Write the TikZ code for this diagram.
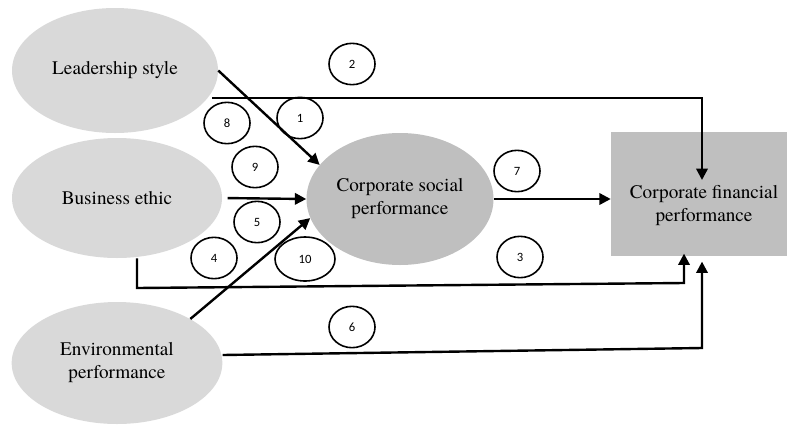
\documentclass[tikz,border=0pt]{standalone}
\usepackage{fontspec}
\newfontfamily\labelfont{texgyretermes-regular.otf}
\newfontfamily\numfont{Carlito}
\usetikzlibrary{
  arrows.meta,      % Triangle arrow tips
  shapes.geometric, % ellipse nodes
  calc
}
\definecolor{lightgrey}{RGB}{217,217,217}
\definecolor{midgrey}{RGB}{191,191,191}

\begin{document}
\begin{tikzpicture}[x=0.75pt, y=-0.75pt, >={Triangle[length=8.5pt,width=8.5pt]},
    factor/.style={ellipse, fill=lightgrey, inner sep=0pt, align=center,
      font=\labelfont\fontsize{14.4}{17.25}\selectfont},
    hyp/.style={ellipse, draw, line width=1.2pt, inner sep=0pt,
      minimum width=34.5pt, minimum height=31pt,
      font=\numfont\fontsize{9.5}{11}\selectfont},
    link/.style={->, line width=1.8pt}]
    % page frame
    \useasboundingbox (0,0) rectangle (787,425);

    % --- variables ---
    \node[factor, minimum width=154.5pt, minimum height=93.75pt] (lead) at (115,70.5) {Leadership style};
    \node[factor, minimum width=157.5pt, minimum height=90pt] (ethic) at (117,198) {Business ethic};
    \node[factor, minimum width=158pt, minimum height=91.5pt] (env) at (117,363) {Environmental\\performance};
    \node[factor, fill=midgrey, minimum width=140.25pt, minimum height=99pt] (csp) at (400,199) {Corporate social\\performance};
    \node[rectangle, fill=midgrey, minimum width=139.5pt, minimum height=93pt,
      label={[align=center, font=\labelfont\fontsize{14.4}{17.25}\selectfont, yshift=-8.5pt]center:{Corporate financial\\performance}}]
      (cfp) at (704,194) {};

    % --- bends of the long paths ---
    \coordinate (b2) at (702,98);
    \coordinate (e2) at (702,180);
    \coordinate (b3a) at (137,288);
    \coordinate (b3b) at (684,283);
    \coordinate (b6) at (702,348);

    % --- paths ---
    \draw[link] (lead.east) -- (csp.157);
    \draw[link] ([xshift=-4.5pt]lead.east |- b2) -- (b2) -- (e2);
    \draw[link, shorten <=4pt] (ethic.east) -- (csp.west);
    \draw[link] (csp.east) -- (csp.east -| cfp.west);
    \draw[link] (ethic.south -| b3a) -- (b3a) -- (b3b) -- ([yshift=2pt]b3b |- cfp.south);
    \draw[link] (env.31) -- (csp.192);
    \draw[link] ([yshift=6pt]env.east) -- (b6) -- ([yshift=-4pt]b6 |- cfp.south);

    % --- hypothesis numbers ---
    \node[hyp] (h1) at (300,118) {1};
    \node[hyp] (h2) at (352,64) {2};
    \node[hyp] (h3) at (520,257) {3};
    \node[hyp] (h4) at (214,258) {4};
    \node[hyp] (h5) at (257,222) {5};
    \node[hyp] (h6) at (352,327) {6};
    \node[hyp] (h7) at (517,171) {7};
    \node[hyp] (h8) at (227,123) {8};
    \node[hyp] (h9) at (255,167) {9};
    \node[hyp, minimum width=45pt, minimum height=33pt] (h10) at (305,259) {10};
\end{tikzpicture}
\end{document}
